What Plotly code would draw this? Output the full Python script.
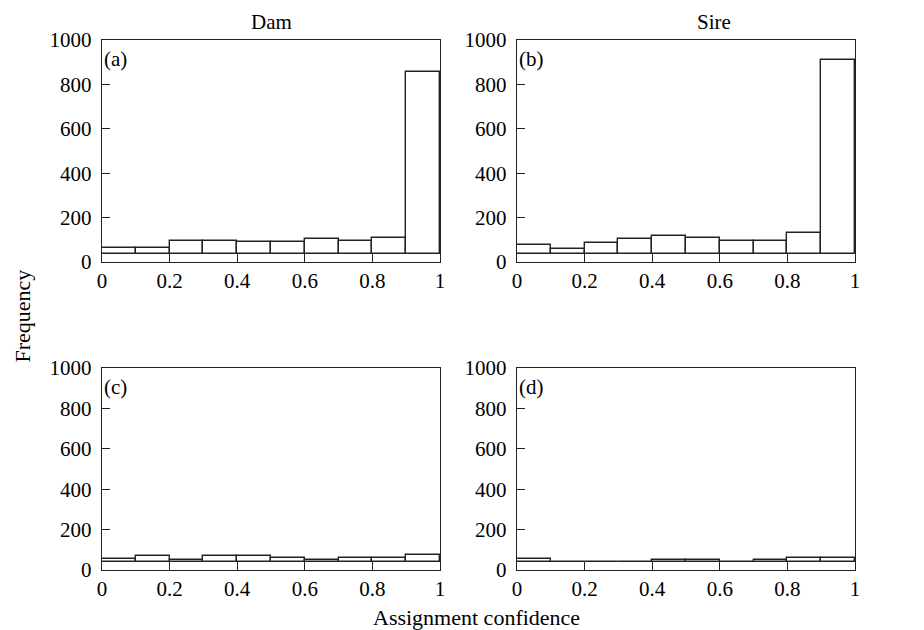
import plotly.graph_objects as go

# ---- data ----
bin_left = [0.0, 0.1, 0.2, 0.3, 0.4, 0.5, 0.6, 0.7, 0.8, 0.9]
bin_width = 0.1
bar_base = 38

dam_a = [61, 61, 96, 96, 90, 90, 103, 96, 110, 855]
sire_b = [76, 60, 87, 103, 118, 110, 96, 96, 131, 912]
dam_c = [56, 70, 50, 70, 70, 61, 50, 61, 61, 76]
sire_d = [55, 40, 40, 40, 49, 49, 40, 49, 58, 61]

panel_letters = ["(a)", "(b)", "(c)", "(d)"]
column_titles = ["Dam", "Sire"]
x_ticks = [0, 0.2, 0.4, 0.6, 0.8, 1]
x_tick_text = ["0", "0.2", "0.4", "0.6", "0.8", "1"]
y_ticks = [0, 200, 400, 600, 800, 1000]
x_title = "Assignment confidence"
y_title = "Frequency"

# ---- layout helpers (page pixels; the page body adds an 8px margin) ----
OFF = 8
W, H = 924 - OFF, 630 - OFF
FONT = "Liberation Serif"
FS = 21
LINE = "#222222"

col_px = [(102, 440), (517, 855)]
row_px = [(40, 262), (368, 570)]


def px_x(p):
    return (p - OFF) / W


def px_y(p):
    return 1 - (p - OFF) / H


def xdom(c):
    return [px_x(col_px[c][0]), px_x(col_px[c][1])]


def ydom(r):
    return [px_y(row_px[r][1]), px_y(row_px[r][0])]


fig = go.Figure()
series = [dam_a, sire_b, dam_c, sire_d]
centers = [b + bin_width / 2 for b in bin_left]

for i, vals in enumerate(series):
    r, c = divmod(i, 2)
    n = i + 1
    xa = "x" if n == 1 else f"x{n}"
    ya = "y" if n == 1 else f"y{n}"
    fig.add_trace(go.Bar(
        x=centers,
        y=[v - bar_base for v in vals],
        base=bar_base,
        width=bin_width,
        marker=dict(color="white", line=dict(color=LINE, width=1.4)),
        xaxis=xa, yaxis=ya, showlegend=False, hoverinfo="skip",
    ))
    axis_common = dict(
        showline=True, linecolor=LINE, linewidth=1.4, mirror=True,
        ticks="inside", tickcolor=LINE, tickwidth=1.3,
        showgrid=False, zeroline=False,
        tickfont=dict(family=FONT, size=FS, color="black"),
    )
    xkey = "xaxis" if n == 1 else f"xaxis{n}"
    ykey = "yaxis" if n == 1 else f"yaxis{n}"
    fig.update_layout(**{
        xkey: dict(axis_common, domain=xdom(c), range=[0, 1], anchor=ya,
                   tickvals=x_ticks, ticktext=x_tick_text, ticklen=8),
        ykey: dict(axis_common, domain=ydom(r), range=[0, 1000], anchor=xa,
                   tickvals=y_ticks, ticklen=8, ticklabelstandoff=5),
    })
    fig.add_annotation(
        text=panel_letters[i], xref=f"{xa} domain", yref=f"{ya} domain",
        x=0.0, y=1.0, xanchor="left", yanchor="top", showarrow=False,
        xshift=0, yshift=-5, font=dict(family=FONT, size=FS, color="black"),
    )

title_x = [271, 714]
for c, t in enumerate(column_titles):
    fig.add_annotation(
        text=t, xref="paper", yref="paper",
        x=px_x(title_x[c]), y=px_y(8),
        xanchor="center", yanchor="top", showarrow=False,
        font=dict(family=FONT, size=FS, color="black"),
    )

fig.add_annotation(
    text=x_title, xref="paper", yref="paper", x=px_x(476), y=px_y(617),
    xanchor="center", yanchor="middle", showarrow=False,
    font=dict(family=FONT, size=22, color="black"),
)
fig.add_annotation(
    text=y_title, xref="paper", yref="paper", x=px_x(8), y=px_y(316),
    xanchor="left", yanchor="middle", showarrow=False, textangle=-90,
    font=dict(family=FONT, size=22, color="black"),
)

fig.update_layout(
    width=W, height=H, margin=dict(l=0, r=0, t=0, b=0, autoexpand=False),
    paper_bgcolor="white", plot_bgcolor="white", bargap=0,
)

fig.write_html("out.html")
